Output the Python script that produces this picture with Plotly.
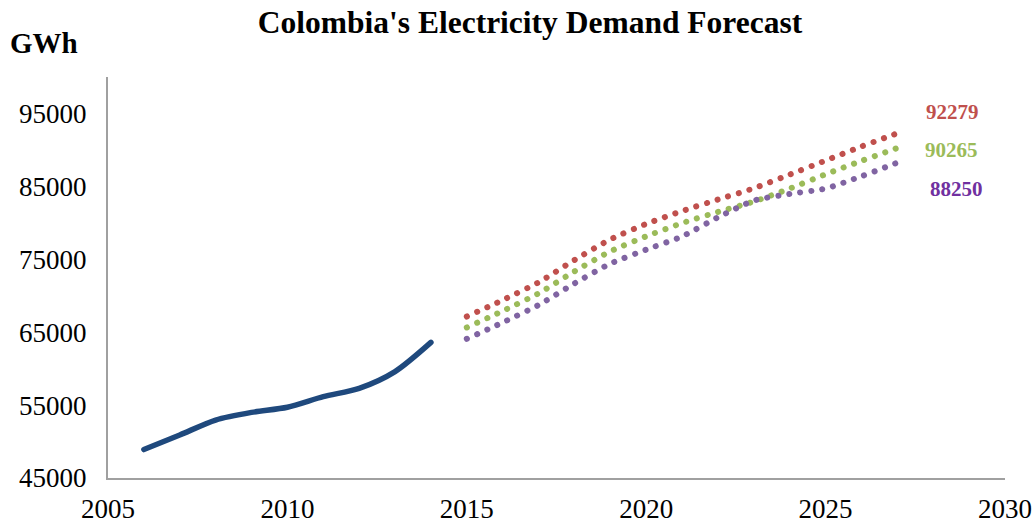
import plotly.graph_objects as go

hist_years = [2006, 2007, 2008, 2009, 2010, 2011, 2012, 2013, 2014]
hist_demand = [48900, 50900, 52950, 54000, 54700, 56150, 57300, 59600, 63600]

fc_years = [2015, 2016, 2017, 2018, 2019, 2020, 2021, 2022, 2023, 2024, 2025, 2026, 2027]
fc_high = [67150, 69400, 71830, 74900, 77730, 79850, 81620, 83190, 84740, 86620, 88540, 90470, 92279]
fc_mid = [65650, 67900, 70320, 73340, 76090, 78150, 79960, 81500, 82910, 84700, 86660, 88500, 90265]
fc_low = [64090, 66330, 68720, 71690, 74400, 76320, 78130, 80750, 83050, 83970, 84700, 86390, 88250]

end_labels = ["92279", "90265", "88250"]

FONT = "Liberation Serif, Times New Roman, serif"
c_hist = "#1F497D"
c_high = "#C0504D"
c_mid = "#9BBB59"
c_low = "#8064A2"
c_lbl_low = "#7030A0"

fig = go.Figure()
fig.add_trace(go.Scatter(x=hist_years, y=hist_demand, mode="lines",
                         line=dict(color=c_hist, width=5.5, shape="spline", smoothing=0.8),
                         showlegend=False))
dash = "0.1px,11px"
for ys, col in [(fc_high, c_high), (fc_mid, c_mid), (fc_low, c_low)]:
    fig.add_trace(go.Scatter(x=fc_years, y=ys, mode="lines",
                             line=dict(color=col, width=6, dash=dash, shape="spline", smoothing=0.6),
                             showlegend=False))

for txt, col, yv, ys, xs in [(end_labels[0], c_high, fc_high[-1], 21, 1),
                             (end_labels[1], c_mid, fc_mid[-1], -2, 0),
                             (end_labels[2], c_lbl_low, fc_low[-1], -26, 5)]:
    fig.add_annotation(x=2028.5, y=yv, xref="x", yref="y", text="<b>" + txt + "</b>",
                       showarrow=False, yshift=ys, xshift=xs,
                       font=dict(family=FONT, size=21, color=col))

fig.add_annotation(x=-0.111, y=1.085, xref="paper", yref="paper",
                   text="<b>GWh</b>", showarrow=False, xanchor="left", yanchor="middle",
                   font=dict(family=FONT, size=29, color="black"))

fig.update_layout(
    width=1035, height=525,
    margin=dict(l=108, r=30, t=77, b=47),
    paper_bgcolor="white", plot_bgcolor="white",
    title=dict(text="<b>Colombia's Electricity Demand Forecast</b>", x=530 / 1035, xanchor="center",
               xref="container", yref="container", y=1 - 22 / 525, yanchor="middle",
               font=dict(family=FONT, size=31.5, color="black")),
    font=dict(family=FONT, size=27, color="black"),
    xaxis=dict(range=[2005, 2030], dtick=5, tick0=2005, showgrid=False, zeroline=False,
               showline=True, linecolor="#A0A0A0", linewidth=2, ticks="", ticklabelstandoff=6,
               automargin=False, tickfont=dict(family=FONT, size=27, color="black")),
    yaxis=dict(range=[45000, 100000], dtick=10000, tick0=45000, showgrid=False, zeroline=False,
               showline=True, linecolor="#A0A0A0", linewidth=2, ticks="", ticklabelstandoff=14,
               tickformat="d", automargin=False,
               tickfont=dict(family=FONT, size=27, color="black")),
)

post = """
document.body.style.margin = '0';
document.body.style.padding = '0';
function roundCaps(){
  var gd = document.getElementById('{plot_id}');
  if(!gd) return;
  gd.querySelectorAll('.scatterlayer .js-line').forEach(function(p){
    p.style.strokeLinecap = 'round';
    p.style.strokeLinejoin = 'round';
  });
}
roundCaps();
setTimeout(roundCaps, 50);
var gdx = document.getElementById('{plot_id}');
if (gdx && gdx.on) { gdx.on('plotly_afterplot', roundCaps); }
"""

fig.write_html("out.html", post_script=post, config={"displayModeBar": False})
